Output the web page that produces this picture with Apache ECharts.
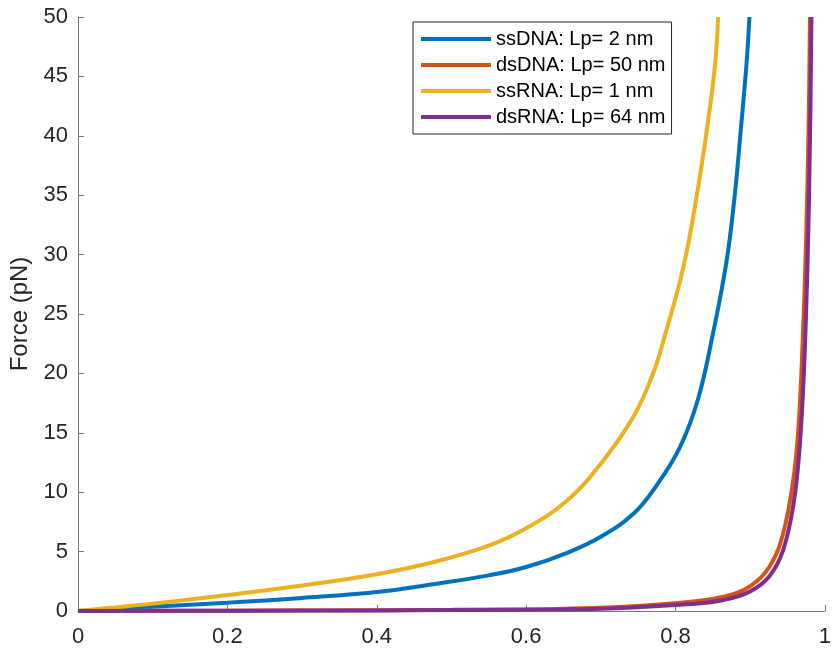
<!DOCTYPE html>
<html>
<head>
<meta charset="utf-8">
<script src="https://cdn.jsdelivr.net/npm/echarts@6/dist/echarts.min.js"></script>
<style>
  html, body { margin: 0; padding: 0; background: #fff; }
  #chart { width: 834px; height: 648px; }
</style>
</head>
<body>
<div id="chart"></div>
<script>
// values (extension x, force in pN)
const seriesNames = ['ssDNA: Lp= 2 nm', 'dsDNA: Lp= 50 nm', 'ssRNA: Lp= 1 nm', 'dsRNA: Lp= 64 nm']

const ssdnaX = [0, 0.05, 0.1, 0.2, 0.3, 0.4, 0.48, 0.55, 0.6, 0.655, 0.7, 0.744, 0.775, 0.806, 0.83, 0.85, 0.868, 0.879, 0.887, 0.895, 0.899]
const ssdnaF = [0, 0.17, 0.35, 0.7, 1.1, 1.6, 2.3, 3.0, 3.7, 4.9, 6.25, 8.2, 10.6, 13.8, 17.8, 23.3, 29.3, 34.8, 40.2, 46.0, 50]

const dsdnaX = [0, 0.2, 0.4, 0.5, 0.64, 0.73, 0.82, 0.864, 0.9, 0.926, 0.944, 0.958, 0.965, 0.97, 0.975, 0.9785, 0.98]
const dsdnaF = [0, 0.03, 0.07, 0.1, 0.17, 0.36, 0.78, 1.2, 2.1, 3.75, 6.5, 11.2, 15.8, 22.3, 31.5, 42, 50]

const ssrnaX = [0, 0.05, 0.1, 0.2, 0.3, 0.4, 0.478, 0.55, 0.6, 0.655, 0.7, 0.744, 0.77, 0.784, 0.81, 0.828, 0.8415, 0.853, 0.857]
const ssrnaF = [0, 0.3, 0.62, 1.35, 2.15, 3.1, 4.15, 5.5, 6.96, 9.3, 12.4, 16.4, 20.0, 22.8, 28.8, 34.8, 40.3, 46.0, 50]

const dsrnaX = [0, 0.2, 0.4, 0.5, 0.64, 0.73, 0.82, 0.864, 0.9, 0.926, 0.944, 0.958, 0.966, 0.972, 0.977, 0.98, 0.982]
const dsrnaF = [0, 0.02, 0.05, 0.08, 0.13, 0.26, 0.58, 0.92, 1.65, 2.95, 5.1, 9.0, 13.6, 20.2, 29.8, 39.5, 50]

const colors = ['#0072BD', '#D95319', '#EDB120', '#7E2F8E']
const font = '"Liberation Sans", Arial, Helvetica, sans-serif'

function pairs(xs, ys) {
  return xs.map((x, i) => [x, ys[i]])
}

function makeSeries(name, xs, ys, color) {
  return {
    name: name,
    type: 'line',
    data: pairs(xs, ys),
    showSymbol: false,
    smooth: 0.4,
    lineStyle: { color: color, width: 4 },
    itemStyle: { color: color },
  }
}

let option = {
  animation: false,
  backgroundColor: '#fff',
  grid: { left: 78, right: 5, top: 17, bottom: 37 },
  legend: {
    orient: 'vertical',
    left: 413,
    top: 22,
    padding: [6, 6, 6, 8],
    borderColor: '#262626',
    borderWidth: 1,
    icon: 'rect',
    itemWidth: 70,
    itemHeight: 4,
    itemGap: 4,
    textStyle: { fontFamily: font, fontSize: 20, lineHeight: 22, color: '#000' },
    data: seriesNames,
  },
  xAxis: {
    type: 'value',
    min: 0,
    max: 1,
    interval: 0.2,
    splitLine: { show: false },
    axisLine: { lineStyle: { color: '#777', width: 1 } },
    axisTick: { inside: true, length: 6, lineStyle: { color: '#777' } },
    axisLabel: { color: '#262626', fontFamily: font, fontSize: 22, margin: 15 },
  },
  yAxis: {
    type: 'value',
    min: 0,
    max: 50,
    interval: 5,
    name: 'Force (pN)',
    nameLocation: 'middle',
    nameGap: 43,
    nameTextStyle: { color: '#262626', fontFamily: font, fontSize: 24 },
    splitLine: { show: false },
    axisLine: { show: true, lineStyle: { color: '#777', width: 1 } },
    axisTick: { show: true, inside: true, length: 6, lineStyle: { color: '#777' } },
    axisLabel: { color: '#262626', fontFamily: font, fontSize: 22, margin: 10 },
  },
  series: [
    makeSeries(seriesNames[0], ssdnaX, ssdnaF, colors[0]),
    makeSeries(seriesNames[1], dsdnaX, dsdnaF, colors[1]),
    makeSeries(seriesNames[2], ssrnaX, ssrnaF, colors[2]),
    makeSeries(seriesNames[3], dsrnaX, dsrnaF, colors[3]),
  ],
}

var myChart = echarts.init(document.getElementById('chart'))
myChart.setOption(option)
</script>
</body>
</html>
